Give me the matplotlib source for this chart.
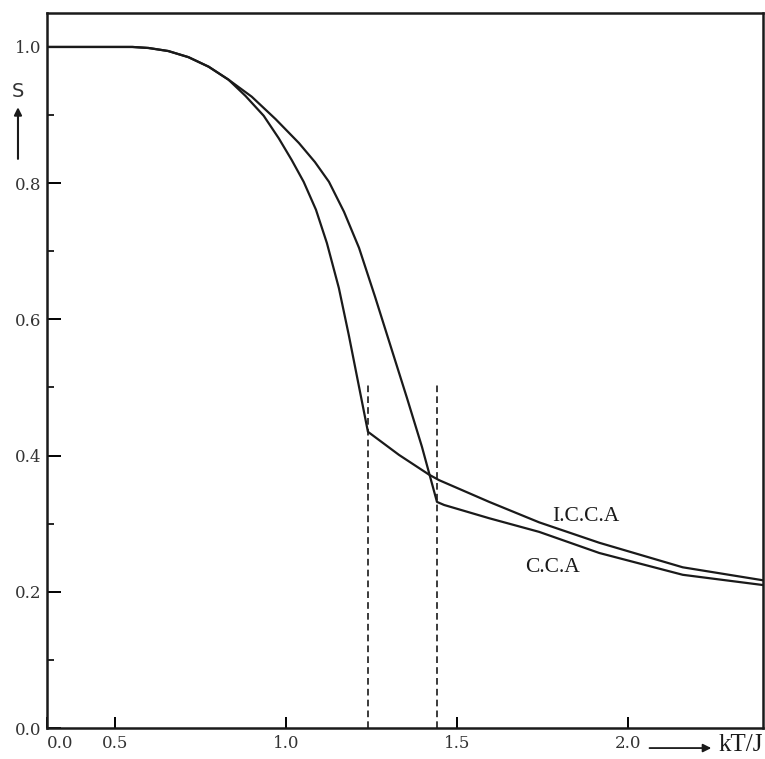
import matplotlib.pyplot as plt
import numpy as np

# order parameter S vs kT/J
t_icca = [0.30, 0.550, 0.597, 0.655, 0.714, 0.773, 0.831, 0.881, 0.934, 0.978,
          1.016, 1.051, 1.087, 1.119, 1.154, 1.183, 1.239, 1.330, 1.418, 1.447,
          1.594, 1.740, 1.916, 2.160, 2.394]
s_icca = [1.000, 1.000, 0.9985, 0.994, 0.985, 0.971, 0.952, 0.928, 0.899, 0.866,
          0.834, 0.802, 0.761, 0.712, 0.646, 0.577, 0.435, 0.401, 0.372, 0.364,
          0.332, 0.302, 0.272, 0.236, 0.217]

t_cca = [0.30, 0.550, 0.597, 0.655, 0.714, 0.773, 0.831, 0.899, 0.969, 1.037,
         1.084, 1.125, 1.169, 1.213, 1.260, 1.309, 1.353, 1.397, 1.441, 1.462,
         1.594, 1.740, 1.916, 2.160, 2.394]
s_cca = [1.000, 1.000, 0.9985, 0.994, 0.985, 0.971, 0.952, 0.927, 0.894, 0.859,
         0.831, 0.802, 0.758, 0.705, 0.633, 0.555, 0.485, 0.413, 0.332, 0.3275,
         0.308, 0.288, 0.257, 0.225, 0.210]

tc_values = [1.239, 1.441]
tc_top = 0.504

xticks = [0.3, 0.5, 1.0, 1.5, 2.0]
xticklabels = ["0.0", "0.5", "1.0", "1.5", "2.0"]
yticks = [0.0, 0.2, 0.4, 0.6, 0.8, 1.0]
yticklabels = ["0.0", "0.2", "0.4", "0.6", "0.8", "1.0"]

plt.rcParams['font.family'] = ['DejaVu Serif']

fig = plt.figure(figsize=(7.65, 7.59), dpi=100)
ax = fig.add_axes([0.0614, 0.0408, 0.9356, 0.9422])

ax.plot(t_icca, s_icca, color="#1a1a1a", lw=1.6)
ax.plot(t_cca, s_cca, color="#1a1a1a", lw=1.6)
for tc in tc_values:
    ax.plot([tc, tc], [0, tc_top], color="#1a1a1a", lw=1.2, ls=(0, (4, 2.5)))

ax.set_xlim(0.3, 2.394)
ax.set_ylim(0.0, 1.05)

ax.set_xticks(xticks)
ax.set_xticklabels(xticklabels, fontsize=12, color="#333333")
ax.get_xticklabels()[0].set_horizontalalignment("left")
ax.set_yticks(yticks)
ax.set_yticklabels(yticklabels, fontsize=12, color="#333333")
ax.set_yticks(np.arange(0.1, 1.0, 0.2), minor=True)
ax.tick_params(axis="both", which="major", direction="in", width=1.4, pad=5)
ax.tick_params(axis="x", which="major", length=8)
ax.tick_params(axis="y", which="major", length=10, pad=4)
ax.tick_params(axis="y", which="minor", direction="in", length=5, width=1.2)
for sp in ax.spines.values():
    sp.set_linewidth(1.8)
    sp.set_color("#1a1a1a")

ax.text(1.779, 0.310, "I.C.C.A", fontsize=15.5, family="Liberation Serif",
        ha="left", va="center", color="#1a1a1a")
ax.text(1.70, 0.236, "C.C.A", fontsize=15.5, family="Liberation Serif",
        ha="left", va="center", color="#1a1a1a")

# axis names with arrows, outside the frame
ax.annotate("", xy=(0.932, -0.028), xytext=(0.838, -0.028), xycoords="axes fraction",
            arrowprops=dict(arrowstyle="-|>", color="#1a1a1a", lw=1.3, mutation_scale=12),
            annotation_clip=False)
ax.text(1.0, -0.024, "kT/J", transform=ax.transAxes, fontsize=18,
        family="Liberation Serif", ha="right", va="center", color="#1a1a1a")
ax.annotate("", xy=(-0.0405, 0.872), xytext=(-0.0405, 0.792), xycoords="axes fraction",
            arrowprops=dict(arrowstyle="-|>", color="#1a1a1a", lw=1.5, mutation_scale=11),
            annotation_clip=False)
ax.text(-0.0405, 0.8895, "S", transform=ax.transAxes, fontsize=14,
        family="DejaVu Sans", ha="center", va="center", color="#333333")

plt.savefig("out.png", dpi=100)
